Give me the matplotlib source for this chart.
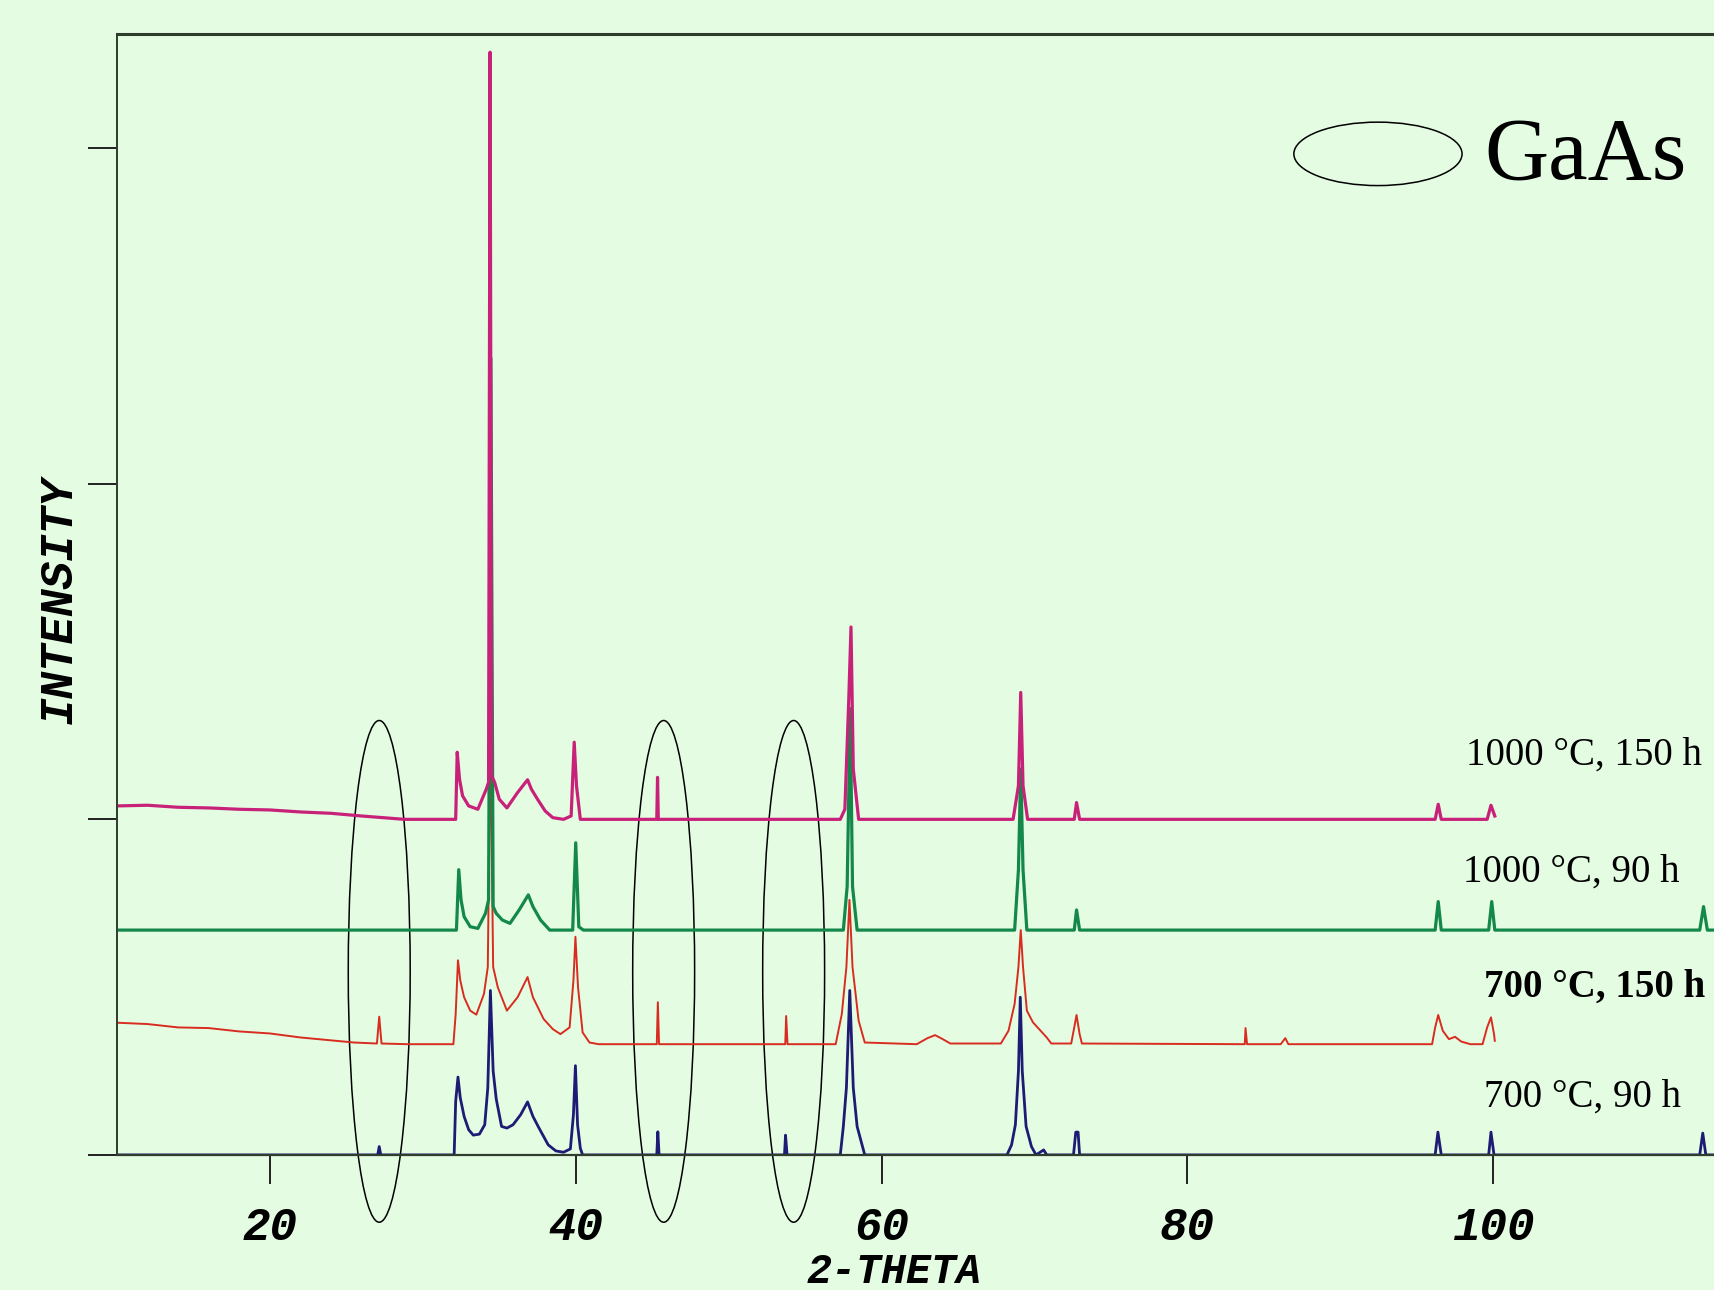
import matplotlib.pyplot as plt
from matplotlib.patches import Ellipse

# XRD patterns, vertices (2-theta, intensity incl. offset)
theta_700_90 = [10, 27.05, 27.15, 27.25, 32.05, 32.15, 32.3, 32.45, 32.7, 33.0, 33.3, 33.7, 34.05, 34.25,
                34.42, 34.6, 34.8, 35.15, 35.5, 35.9, 36.4, 36.85, 37.2, 37.6, 38.2, 38.7, 39.2, 39.65,
                39.85, 39.98, 40.12, 40.3, 40.45, 45.3, 45.37, 45.45, 53.65, 53.72, 53.82,
                57.3, 57.5, 57.7, 57.92, 58.15, 58.4, 58.9, 68.2, 68.5, 68.75, 68.95, 69.07, 69.2,
                69.45, 69.8, 70.1, 70.6, 70.8, 72.55, 72.7, 72.85, 72.95, 96.2, 96.38, 96.6,
                99.7, 99.85, 100.05, 113.5, 113.7, 113.9, 114.5]
int_700_90 = [0, 0, 25, 0, 0, 160, 232, 170, 115, 75, 59, 62, 90, 200,
              490, 250, 167, 85, 80, 90, 120, 158, 115, 80, 30, 12, 8, 18,
              120, 266, 90, 20, 0, 0, 69, 0, 0, 59, 0,
              0, 85, 200, 490, 200, 85, 0, 0, 30, 90, 250, 470, 250,
              85, 25, 0, 15, 0, 0, 68, 68, 0, 0, 68, 0,
              0, 68, 0, 0, 65, 0, 0]

theta_700_150 = [10, 12, 14, 16, 18, 20, 22, 25.5, 27.0, 27.15, 27.3, 29, 32.0, 32.15, 32.3, 32.45, 32.7, 33.1,
                 33.5, 34.0, 34.25, 34.42, 34.6, 34.9, 35.5, 36.2, 36.85, 37.2, 37.9, 38.5, 39.0,
                 39.6, 39.85, 39.98, 40.15, 40.45, 40.9, 41.5, 45.3, 45.37, 45.45, 53.7, 53.76, 53.85,
                 57.0, 57.4, 57.7, 57.9, 58.1, 58.5, 58.9, 62.3, 63.0, 63.5, 64.0, 64.5,
                 67.8, 68.3, 68.7, 68.95, 69.1, 69.25, 69.5, 69.9, 70.3, 70.8, 71.1,
                 72.4, 72.6, 72.75, 72.95, 73.1, 83.75, 83.8, 83.9, 86.1, 86.4, 86.6,
                 96.0, 96.2, 96.4, 96.7, 97.1, 97.5, 97.9, 98.5, 99.3, 99.6, 99.85, 100.05, 100.1]
int_700_150 = [394, 390, 380, 378, 368, 362, 350, 335, 332, 412, 332, 330, 330, 420, 580, 520, 470, 430,
               418, 480, 560, 1250, 560, 500, 430, 470, 530, 470, 405, 375, 360,
               380, 520, 650, 500, 365, 335, 330, 330, 455, 330, 330, 414, 330,
               330, 420, 560, 760, 560, 400, 335, 330, 348, 357, 345, 332,
               332, 370, 450, 560, 670, 560, 430, 395, 375, 350, 332,
               332, 380, 417, 360, 332, 330, 378, 330, 330, 348, 330,
               330, 380, 417, 370, 345, 352, 338, 330, 330, 380, 410, 360, 340]

theta_1000_90 = [10, 32.2, 32.35, 32.5, 32.7, 33.1, 33.6, 34.1, 34.3, 34.45, 34.6, 34.8, 35.2, 35.7,
                 36.3, 36.9, 37.2, 37.7, 38.3, 39.8, 40.0, 40.2, 40.5,
                 57.5, 57.75, 57.95, 58.1, 58.4, 68.7, 68.95, 69.1, 69.25, 69.5,
                 72.6, 72.75, 72.95, 96.2, 96.4, 96.6, 99.7, 99.9, 100.1,
                 113.5, 113.75, 114.0, 114.5]
int_1000_90 = [670, 670, 850, 760, 710, 680, 675, 720, 760, 2374, 740, 720, 700, 690,
               730, 775, 740, 700, 670, 670, 930, 680, 670,
               670, 800, 1330, 800, 670, 670, 850, 1150, 850, 670,
               670, 730, 670, 670, 755, 670, 670, 755, 670,
               670, 740, 670, 670]

theta_1000_150 = [10, 12, 14, 16, 18, 20, 22, 24, 26, 28.8, 32.15, 32.25, 32.4, 32.6, 33.0, 33.6, 34.15, 34.3,
                  34.4, 34.5, 34.7, 35.0, 35.5, 36.2, 36.85, 37.1, 37.5, 38.0, 38.5, 39.2, 39.7,
                  39.9, 40.05, 40.3, 45.3, 45.35, 45.4, 57.3, 57.6, 57.85, 58.0, 58.15, 58.5,
                  68.6, 68.95, 69.1, 69.25, 69.55, 72.6, 72.75, 72.95, 96.2, 96.4, 96.6,
                  99.6, 99.85, 100.1]
int_1000_150 = [1040, 1042, 1036, 1034, 1030, 1028, 1022, 1018, 1010, 1000, 1000, 1200, 1120, 1070, 1040, 1030, 1090, 1110,
                3286, 1130, 1110, 1060, 1034, 1080, 1118, 1090, 1060, 1025, 1005, 1000, 1010,
                1230, 1100, 1000, 1000, 1125, 1000, 1000, 1030, 1350, 1573, 1150, 1000,
                1000, 1100, 1378, 1100, 1000, 1000, 1050, 1000, 1000, 1045, 1000,
                1000, 1042, 1010]

labels = ['700 \u00b0C, 90 h', '700 \u00b0C, 150 h', '1000 \u00b0C, 90 h', '1000 \u00b0C, 150 h']
label_x = [99.4, 99.4, 98.05, 98.2]
label_y = [173, 498, 844, 1192]

# GaAs reflections marked with ellipses
ellipse_x = [27.15, 45.75, 54.25]
ellipse_y = 547
xticks = [20, 40, 60, 80, 100]

bg = '#e4fce2'
fig = plt.figure(figsize=(17.15, 12.9), dpi=100, facecolor=bg)
ax = fig.add_axes([0.0682, 0.1047, 0.9318, 0.8689], facecolor=bg)

ax.plot(theta_700_90, int_700_90, color='#1d1b73', lw=2.0)
ax.plot(theta_700_150, int_700_150, color='#d82c20', lw=1.4)
ax.plot(theta_1000_90, int_1000_90, color='#13884a', lw=2.3)
ax.plot(theta_1000_150, int_1000_150, color='#c8217a', lw=2.3)

for t, x, y in zip(labels, label_x, label_y):
    ax.text(x, y, t, fontsize=28, family='Liberation Serif', va='center', ha='left',
            fontweight='bold' if t == '700 \u00b0C, 150 h' else 'normal', clip_on=False)

for x in ellipse_x:
    ax.add_patch(Ellipse((x, ellipse_y), 4.05, 1495, fill=False, ec='black', lw=1.1, clip_on=False))

# legend-like marker
ax.add_patch(Ellipse((92.46, 2983), 11.0, 189, fill=False, ec='black', lw=1.1))
ax.text(99.4, 2974, 'GaAs', fontsize=64, family='Liberation Serif', va='center', ha='left')

ax.set_xlim(10, 114.5)
ax.set_ylim(0, 3340)
ax.set_xticks(xticks)
ax.set_xticklabels([str(v) for v in xticks], fontsize=33, family='Liberation Mono',
                   fontweight='bold', fontstyle='italic')
ax.set_yticks([0, 1000, 2000, 3000])
ax.set_yticklabels([])
ax.tick_params(axis='both', direction='out', length=21, width=1.4, color='#222222')
ax.tick_params(axis='x', pad=16)

for s in ['left', 'top', 'bottom']:
    ax.spines[s].set_color('#2e3d2e')
ax.spines['left'].set_linewidth(1.4)
ax.spines['top'].set_linewidth(2.2)
ax.spines['bottom'].set_linewidth(1.6)
ax.spines['right'].set_visible(False)

ax.set_xlabel('2-THETA', fontsize=30, family='Liberation Mono', fontweight='bold', fontstyle='italic',
              va='center')
ax.xaxis.set_label_coords(0.4866, -0.104)
ax.set_ylabel('INTENSITY', fontsize=33, family='Liberation Mono', fontweight='bold', fontstyle='italic',
              va='center')
ax.yaxis.set_label_coords(-0.036, 0.495)

plt.savefig('out.png', dpi=100, facecolor=bg)
